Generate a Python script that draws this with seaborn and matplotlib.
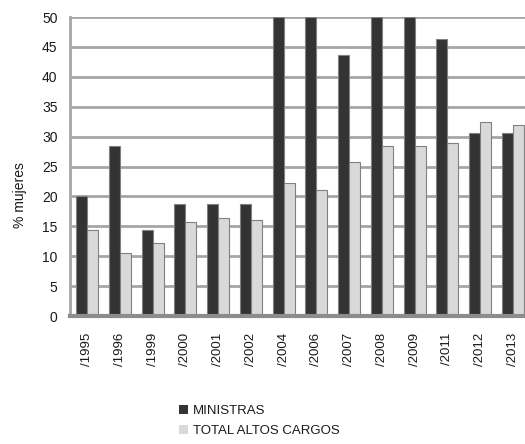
import matplotlib
matplotlib.use("Agg")
import matplotlib.pyplot as plt
import seaborn as sns
import pandas as pd
from matplotlib.patches import Patch

years = ["/1995", "/1996", "/1999", "/2000", "/2001", "/2002", "/2004",
         "/2006", "/2007", "/2008", "/2009", "/2011", "/2012", "/2013"]
ministras = [20.0, 28.4, 14.3, 18.7, 18.7, 18.7, 50.0,
             50.0, 43.6, 50.0, 50.0, 46.4, 30.6, 30.6]
altos_cargos = [14.4, 10.6, 12.2, 15.7, 16.4, 16.1, 22.2,
                21.0, 25.8, 28.4, 28.5, 28.9, 32.5, 31.9]
series_names = ["MINISTRAS", "TOTAL ALTOS CARGOS"]
colors = ["#333333", "#d9d9d9"]
yticks = [0, 5, 10, 15, 20, 25, 30, 35, 40, 45, 50]

df = pd.DataFrame({
    "year": years * 2,
    "value": ministras + altos_cargos,
    "serie": [series_names[0]] * len(years) + [series_names[1]] * len(years),
})

sns.set_theme(style="white")
plt.rcParams["font.family"] = ["Liberation Sans", "DejaVu Sans"]

fig = plt.figure(figsize=(5.25, 4.44), dpi=100)
ax = fig.add_axes([70 / 525, 1 - 316 / 444, 1 - 70 / 525, (316 - 17) / 444])

sns.barplot(data=df, x="year", y="value", hue="serie", palette=colors,
            width=0.67, edgecolor="#808080", linewidth=0.8, ax=ax,
            legend=False, zorder=3)

ax.set_ylim(0, 50)
ax.set_xlim(-0.52, 13.37)
ax.set_yticks(yticks)
ax.set_yticklabels([str(t) for t in yticks], fontsize=10, color="#1a1a1a")
ax.set_xticks(range(len(years)))
ax.set_xticklabels(years, rotation=90, fontsize=9.5, color="#1a1a1a")
ax.tick_params(axis="both", length=0)
ax.tick_params(axis="y", pad=9)
ax.tick_params(axis="x", pad=12)
ax.set_xlabel("")
ax.set_ylabel("")

for t in yticks[1:]:
    ax.axhline(t, color="#a6a6a6", linewidth=2, zorder=1)

for s in ["top", "right"]:
    ax.spines[s].set_visible(False)
ax.spines["left"].set_color("#a6a6a6")
ax.spines["left"].set_linewidth(2)
ax.spines["bottom"].set_color("#8c8c8c")
ax.spines["bottom"].set_linewidth(3)
ax.spines["bottom"].set_zorder(4)

fig.text(20 / 525, 1 - 195 / 444, "% mujeres", rotation=90, fontsize=10,
         ha="center", va="center", color="#1a1a1a")

handles = [Patch(facecolor=c, edgecolor="none") for c in colors]
fig.legend(handles, series_names, loc="upper left",
           bbox_to_anchor=(172 / 525, 1 - 398 / 444), frameon=False,
           fontsize=9.5, handlelength=0.7, handleheight=0.7,
           handletextpad=0.4, labelspacing=0.6, borderpad=0,
           labelcolor="#1a1a1a")

fig.savefig("out.png", dpi=100)
